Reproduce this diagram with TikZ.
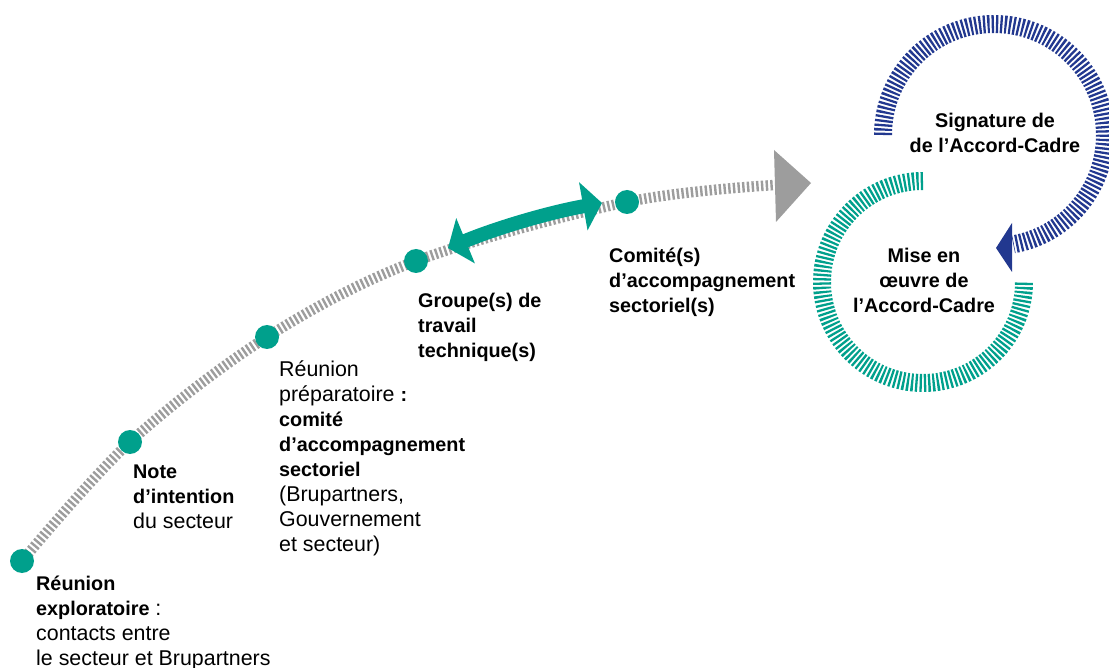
\documentclass[tikz,border=0pt]{standalone}
\usepackage{fontspec}
\setmainfont{Liberation Sans}
\usetikzlibrary{arrows.meta}
\definecolor{teal1}{HTML}{00A08C}
\definecolor{navy1}{HTML}{22388F}
\definecolor{grey1}{HTML}{9D9D9D}
\newcommand\bb[1]{{\fontsize{19.8}{25}\selectfont\bfseries #1}}
\newcommand\lstack[1]{\vtop{\halign{##\hfil\cr#1\crcr}}}
\newcommand\cstack[1]{\vtop{\halign{\hfil##\hfil\cr#1\crcr}}}
\begin{document}
\begin{tikzpicture}[x=1pt,y=-1pt,
  greystripe/.style={draw=grey1, line width=10.5pt, dash pattern=on 2.4pt off 2.3pt},
  ringstripe/.style={line width=18pt, dash pattern=on 2.3pt off 2.0pt},
  dot/.style={circle, fill=teal1, minimum size=24pt, inner sep=0pt},
  lbl/.style={anchor=base west, inner sep=0pt, font=\fontsize{21.4}{25}\selectfont},
  clbl/.style={anchor=base, inner sep=0pt, font=\fontsize{19.8}{25}\selectfont\bfseries}
]
\useasboundingbox (0,0) rectangle (1109,668);

% timeline points
\coordinate (p1) at (22,561);
\coordinate (p2) at (130,442);
\coordinate (p3) at (267,337);
\coordinate (p4) at (416,261);
\coordinate (p5) at (627,202);
\coordinate (pend) at (775,185);

% grey striped timeline
\draw[greystripe] plot[smooth, tension=0.55] coordinates {(p1) (p2) (p3) (p4) (p5) (pend)};
\coordinate (gtA) at (774,150);
\coordinate (gtB) at (811,183);
\coordinate (gtC) at (776,222);
\fill[grey1] (gtA) -- (gtB) -- (gtC) -- cycle;

% teal double arrow
\coordinate (aL) at (448,248);
\coordinate (aR) at (602,203);
\draw[teal1, line width=14pt, {Triangle[length=19pt,width=48pt]}-{Triangle[length=19pt,width=48pt]}]
  (aL) .. controls (499,227) and (551,212) .. (aR);

% dots
\foreach \i in {1,...,5} { \node[dot] (d\i) at (p\i) {}; }

% rings
\coordinate (tc) at (923,282);
\coordinate (bc) at (994,135);
\draw[teal1, ringstripe] (923,181) arc[start angle=-90, end angle=-360, radius=101];
\draw[navy1, ringstripe] (883,135) arc[start angle=180, end angle=440, radius=111];
\coordinate (btA) at (1012,223);
\coordinate (btB) at (996,248);
\coordinate (btC) at (1012,272);
\fill[navy1] (btA) -- (btB) -- (btC) -- cycle;

% labels
\node[lbl] (t1) at (36,590) {\lstack{\bb{Réunion}\cr \bb{exploratoire} :\cr contacts entre\cr le secteur et Brupartners}};
\node[lbl] (t2) at (133,478) {\lstack{\bb{Note}\cr \bb{d’intention}\cr du secteur}};
\node[lbl] (t3) at (279,377) {\lstack{Réunion\cr préparatoire \bb{:}\cr \bb{comité}\cr \bb{d’accompagnement}\cr \bb{sectoriel}\cr (Brupartners,\cr Gouvernement\cr et secteur)}};
\node[lbl] (t4) at (418,308) {\lstack{\bb{Groupe(s) de}\cr \bb{travail}\cr \bb{technique(s)}}};
\node[lbl] (t5) at (609,263) {\lstack{\bb{Comité(s)}\cr \bb{d’accompagnement}\cr \bb{sectoriel(s)}}};
\node[clbl] (t6) at (995,128) {\cstack{Signature de\cr de l’Accord-Cadre}};
\node[clbl] (t7) at (924,263) {\cstack{Mise en\cr œuvre de\cr l’Accord-Cadre}};
\end{tikzpicture}
\end{document}
